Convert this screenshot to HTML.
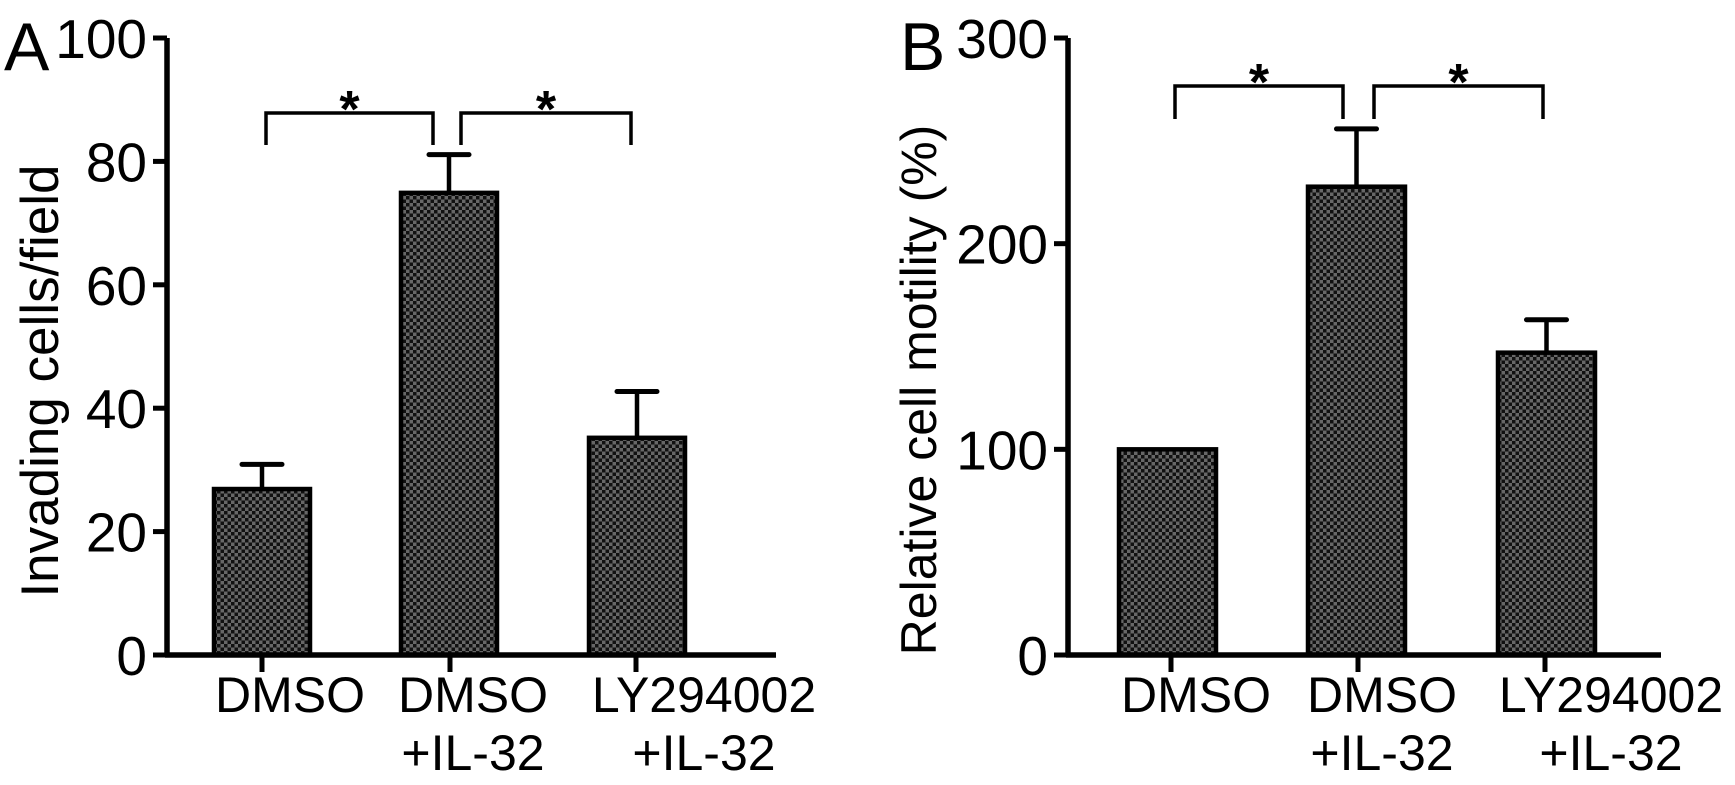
<!DOCTYPE html>
<html><head><meta charset="utf-8"><style>
html,body{margin:0;padding:0;background:#fff;}
svg{display:block;font-family:"Liberation Sans",Arial,sans-serif;}
</style></head><body>
<svg id="fig" width="1735" height="785" viewBox="0 0 1735 785">
<defs>
<pattern id="chk" width="7" height="7" patternUnits="userSpaceOnUse">
<rect width="7" height="7" fill="#676767"/>
<rect width="3.5" height="3.5" fill="#111"/>
<rect x="3.5" y="3.5" width="3.5" height="3.5" fill="#111"/>
</pattern>
</defs>
</svg>
<script>
const catsA = [["DMSO"],["DMSO","+IL-32"],["LY294002","+IL-32"]];
const valsA = [26.9, 74.9, 35.2];
const errA = [4.0, 6.2, 7.5];
const ticksA = [0,20,40,60,80,100];
const valsB = [100, 227.7, 147];
const errB = [0, 28.1, 16];
const ticksB = [0,100,200,300];

const NS="http://www.w3.org/2000/svg";
const svg=document.getElementById('fig');
function mk(tag,attrs,parent){const e=document.createElementNS(NS,tag);for(const k in attrs)e.setAttribute(k,attrs[k]);(parent||svg).appendChild(e);return e;}

function panel(cfg){
  const g=mk('g',{});
  
  
  const y=v=>cfg.y0-(v/cfg.max)*(cfg.y0-cfg.yTop);
  cfg.vals.forEach((v,i)=>{
    const bx=cfg.barX[i];
    if(cfg.err[i]>0){
      const cx=bx+cfg.bw/2;
      const l=mk('line',{x1:cx,x2:cx,y1:y(v),y2:y(v+cfg.err[i]),stroke:'#000','stroke-width':4.5},g);
      
      
      const c=mk('line',{x1:cx-20,x2:cx+20,y1:y(v+cfg.err[i]),y2:y(v+cfg.err[i]),stroke:'#000','stroke-width':5,'stroke-linecap':'round'},g);
      
      
    }
    const r=mk('rect',{x:bx,y:y(v),width:cfg.bw,height:cfg.y0-y(v),fill:'url(#chk)',stroke:'#000','stroke-width':4.5},g);
    
    
  });
  const ya=mk('line',{x1:cfg.ax,x2:cfg.ax,y1:cfg.yTop,y2:cfg.y0+2,stroke:'#000','stroke-width':5.5},g);
  
  
  const xa=mk('line',{x1:cfg.ax-2,x2:cfg.axEnd,y1:cfg.y0,y2:cfg.y0,stroke:'#000','stroke-width':5.5},g);
  
  
  cfg.ticks.forEach(t=>{
    const tl=mk('line',{x1:cfg.ax-14,x2:cfg.ax,y1:y(t),y2:y(t),stroke:'#000','stroke-width':5},g);
    
    
    const tx=mk('text',{x:cfg.ax-20,y:y(t)+20,'text-anchor':'end','font-size':55},g);
    tx.textContent=t;
    
    
  });
  cfg.xt.forEach((xx,i)=>{
    const tl=mk('line',{x1:xx,x2:xx,y1:cfg.y0,y2:cfg.y0+17,stroke:'#000','stroke-width':5},g);
    
    
    const lines=catsA[i];
    lines.forEach((s,j)=>{
      const tx=mk('text',{x:cfg.lx[i],y:712+j*58,'text-anchor':'middle','font-size':50},g);
      tx.textContent=s;
      
      
    });
  });
  cfg.br.forEach((b,i)=>{
    const p=mk('polyline',{points:`${b[0]},${cfg.brBot} ${b[0]},${cfg.brY} ${b[1]},${cfg.brY} ${b[1]},${cfg.brBot}`,fill:'none',stroke:'#000','stroke-width':3.5},g);
    
    
    const s=mk('text',{x:(b[0]+b[1])/2,y:cfg.brY+14,'text-anchor':'middle','font-size':52,'font-weight':'bold'},g);
    s.textContent='*';
    
    
  });
  const t=mk('text',{transform:`translate(${cfg.titleX},${cfg.titleY}) rotate(-90)`,'text-anchor':'middle','font-size':cfg.titleSize},g);
  t.textContent=cfg.title;
  
  
  const L=mk('text',{x:cfg.letterX,y:70,'font-size':68},g);
  L.textContent=cfg.letter;
  
  
}

panel({name:'panel-a',vals:valsA,err:errA,ticks:ticksA,max:100,y0:655,yTop:38,ax:167,axEnd:776,
  barX:[214,401,589],bw:96,xt:[262,450,636],lx:[290,473,704],
  br:[[266,433],[461,631]],brY:113,brBot:145,title:'Invading cells/field',titleSize:53,titleX:58,titleY:381,letter:'A',letterX:4});
panel({name:'panel-b',vals:valsB,err:errB,ticks:ticksB,max:300,y0:655,yTop:38,ax:1068,axEnd:1661,
  barX:[1119,1308,1498],bw:97,xt:[1171,1358,1545],lx:[1196,1382,1611],
  br:[[1175,1343],[1374,1543]],brY:86,brBot:119,title:'Relative cell motility (%)',titleSize:50,titleX:936,titleY:390,letter:'B',letterX:900});
</script>
</body></html>
